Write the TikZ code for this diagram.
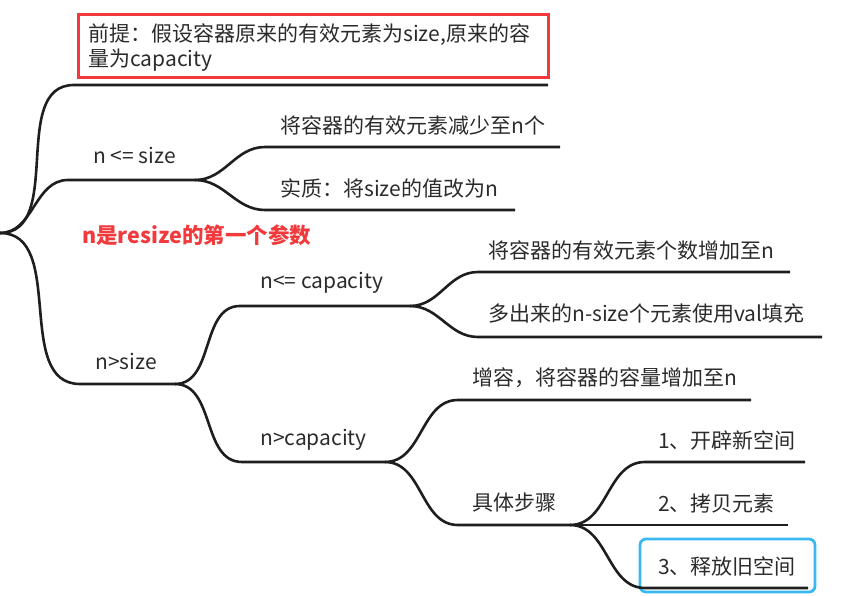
\documentclass[tikz,border=0pt]{standalone}
\usepackage{fontspec}
\setmainfont{Noto Sans CJK SC}
\definecolor{MapLine}{HTML}{1E1E1E}
\definecolor{MapText}{HTML}{2B2B2B}
\definecolor{MapRed}{HTML}{F23A3C}
\definecolor{MapBlue}{HTML}{3BB7F2}

\begin{document}
\begin{tikzpicture}[x=1pt,y=-1pt,
  branch/.style={line width=2.6pt,draw=MapLine},
  lbl/.style={anchor=west,inner sep=0pt,font=\fontsize{21}{25}\selectfont,text=MapText}]
\path[use as bounding box] (0,0) rectangle (865,596);
% fork points and line ends
\coordinate (root) at (0,233);
\coordinate (preS) at (74,85);   \coordinate (preE) at (548,85);
\coordinate (leS) at (68,180);   \coordinate (leF) at (195,180);
\coordinate (redS) at (265,147); \coordinate (redE) at (560,147);
\coordinate (essS) at (265,210); \coordinate (essE) at (515,210);
\coordinate (gtS) at (80,384);   \coordinate (gtF) at (175,384);
\coordinate (capS) at (240,306); \coordinate (capF) at (410,306);
\coordinate (incS) at (478,272); \coordinate (incE) at (790,272);
\coordinate (valS) at (478,337); \coordinate (valE) at (822,337);
\coordinate (bigS) at (242,462); \coordinate (bigF) at (385,462);
\coordinate (grS) at (458,400);  \coordinate (grE) at (751,400);
\coordinate (stS) at (458,525);  \coordinate (stF) at (570,525);
\coordinate (s1S) at (645,462);  \coordinate (s1E) at (805,462);
\coordinate (s2S) at (645,525);  \coordinate (s2E) at (788,525);
\coordinate (s3S) at (645,588);  \coordinate (s3E) at (808,588);

% labels
\node[lbl,align=left] (pre) at (88,48) {前提：假设容器原来的有效元素为size,原来的容\\量为capacity};
\node[lbl] (le) at (93,156) {n <= size};
\node[lbl] (red) at (280,125) {将容器的有效元素减少至n个};
\node[lbl] (ess) at (280,188) {实质：将size的值改为n};
\node[lbl,text=MapRed,font=\fontsize{21.5}{25}\selectfont\bfseries] (arg) at (82,235) {n是resize的第一个参数};
\node[lbl] (gt) at (95,361) {n>size};
\node[lbl] (cap) at (260,283) {n<= capacity};
\node[lbl] (inc) at (488,250) {将容器的有效元素个数增加至n};
\node[lbl] (val) at (488,314) {多出来的n-size个元素使用val填充};
\node[lbl] (big) at (260,440) {n>capacity};
\node[lbl] (gr) at (472,378) {增容，将容器的容量增加至n};
\node[lbl] (st) at (472,503) {具体步骤};
\node[lbl] (s1) at (658,440) {1、开辟新空间};
\node[lbl] (s2) at (658,503) {2、拷贝元素};
\node[lbl] (s3) at (658,566) {3、释放旧空间};

% frames
\draw[MapRed,line width=3pt] (78,15) rectangle (548,78);
\draw[MapBlue,line width=2.8pt,rounded corners=6pt] (640,539) rectangle (815,592);

% branches
\draw[branch] (root) to[out=0,in=180] (preS) -- (preE);
\draw[branch] (root) to[out=0,in=180] (leS) -- (leF);
\draw[branch] (leF) to[out=0,in=180] (redS) -- (redE);
\draw[branch] (leF) to[out=0,in=180] (essS) -- (essE);
\draw[branch] (root) to[out=0,in=180] (gtS) -- (gtF);
\draw[branch] (gtF) to[out=0,in=180] (capS) -- (capF);
\draw[branch] (capF) to[out=0,in=180] (incS) -- (incE);
\draw[branch] (capF) to[out=0,in=180] (valS) -- (valE);
\draw[branch] (gtF) to[out=0,in=180] (bigS) -- (bigF);
\draw[branch] (bigF) to[out=0,in=180] (grS) -- (grE);
\draw[branch] (bigF) to[out=0,in=180] (stS) -- (stF);
\draw[branch] (stF) to[out=0,in=180] (s1S) -- (s1E);
\draw[branch] (stF) -- (s2S) -- (s2E);
\draw[branch] (stF) to[out=0,in=180] (s3S) -- (s3E);
\end{tikzpicture}
\end{document}
